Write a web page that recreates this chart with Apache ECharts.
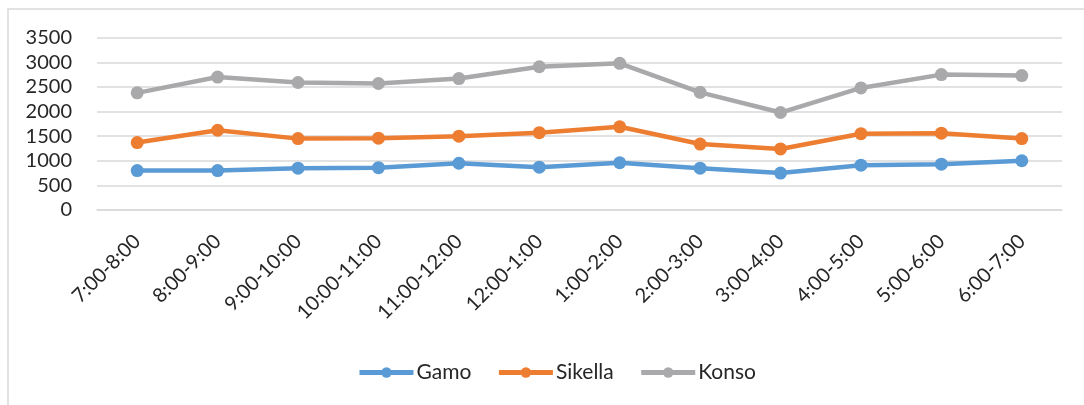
<!DOCTYPE html>
<html>
<head>
<meta charset="utf-8">
<script src="https://cdn.jsdelivr.net/npm/echarts@6/dist/echarts.min.js"></script>
<style>
  html, body { margin: 0; padding: 0; background: #fff; }
  #container { width: 1084px; height: 405px; }
</style>
</head>
<body>
<div id="container"></div>
<script>
let hours = ['7:00-8:00', '8:00-9:00', '9:00-10:00', '10:00-11:00', '11:00-12:00', '12:00-1:00',
    '1:00-2:00', '2:00-3:00', '3:00-4:00', '4:00-5:00', '5:00-6:00', '6:00-7:00'];

let gamo = [800, 800, 850, 860, 950, 870, 960, 850, 750, 910, 930, 1000];
let sikella = [1370, 1620, 1450, 1460, 1500, 1570, 1690, 1340, 1240, 1550, 1560, 1450];
let konso = [2380, 2700, 2590, 2570, 2670, 2910, 2980, 2390, 1980, 2480, 2750, 2730];

let seriesNames = ['Gamo', 'Sikella', 'Konso'];
let seriesColors = ['#5B9BD5', '#ED7D31', '#A9A9AC'];

var dom = document.getElementById('container');
var myChart = echarts.init(dom, null, {
    renderer: 'canvas',
    useDirtyRect: false
});

var font = 'Lato';

function makeLine(name, data, color) {
    return {
        name: name,
        type: 'line',
        data: data,
        symbol: 'circle',
        symbolSize: 13,
        color: color,
        lineStyle: { width: 4.5, color: color },
        itemStyle: { color: color },
        emphasis: { disabled: true },
        animation: false
    };
}

var option = {
    backgroundColor: '#fff',
    grid: {
        left: 97,
        right: 22,
        top: 37.7,
        bottom: 195
    },
    legend: {
        data: seriesNames,
        left: 352,
        top: 357,
        itemWidth: 54,
        itemHeight: 13,
        itemGap: 25,
        lineStyle: { width: 5 },
        textStyle: { fontFamily: font, fontSize: 21, color: '#262626', padding: [0, 0, 0, -2] }
    },
    xAxis: {
        type: 'category',
        data: hours,
        boundaryGap: true,
        axisLine: { lineStyle: { color: '#D9D9D9', width: 1.5 } },
        axisTick: { show: false },
        axisLabel: {
            rotate: 45,
            interval: 0,
            margin: 28,
            fontFamily: font,
            fontSize: 20,
            color: '#262626'
        }
    },
    yAxis: {
        type: 'value',
        min: 0,
        max: 3500,
        interval: 500,
        axisLine: { show: false },
        axisTick: { show: false },
        splitLine: { lineStyle: { color: '#D9D9D9', width: 1.5 } },
        axisLabel: {
            margin: 25,
            fontFamily: font,
            fontSize: 20,
            color: '#262626',
            formatter: function (v) { return String(v); }
        }
    },
    graphic: [
        {
            type: 'polyline',
            shape: { points: [[8, 405], [8, 9], [1084, 9]] },
            style: { stroke: '#D9D9D9', lineWidth: 1.5, fill: null }
        }
    ],
    series: [
        makeLine(seriesNames[0], gamo, seriesColors[0]),
        makeLine(seriesNames[1], sikella, seriesColors[1]),
        makeLine(seriesNames[2], konso, seriesColors[2])
    ]
};

if (option && typeof option === 'object') {
    myChart.setOption(option);
}

window.addEventListener('resize', myChart.resize);
</script>
</body>
</html>
